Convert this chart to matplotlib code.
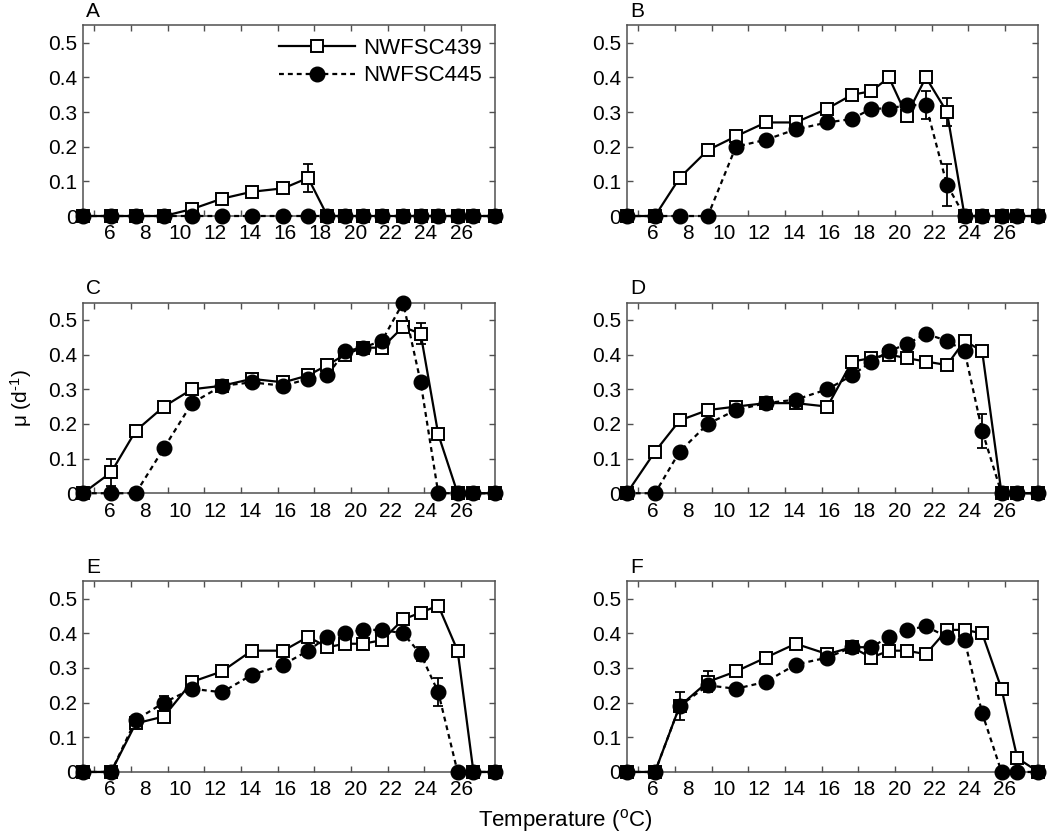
import numpy as np
import matplotlib.pyplot as plt

plt.rcParams['font.family'] = ['Liberation Sans', 'DejaVu Sans']
plt.rcParams['mathtext.fontset'] = 'custom'
plt.rcParams['mathtext.rm'] = 'Liberation Sans'
plt.rcParams['mathtext.it'] = 'Liberation Sans:italic'

# measured temperatures of the gradient (deg C)
temps = [4.5, 6.1, 7.5, 9.1, 10.7, 12.4, 14.1, 15.9, 17.3, 18.4,
         19.4, 20.4, 21.5, 22.7, 23.7, 24.7, 25.8, 26.7, 27.9]
tick_labels = ['6', '8', '10', '12', '14', '16', '18', '20', '22', '24', '26']
label_temps = [6, 8, 10, 12, 14, 16, 18, 20, 22, 24, 26]
panel_names = ['A', 'B', 'C', 'D', 'E', 'F']

# growth rates mu (d-1), strain NWFSC439 and NWFSC445
a_439 = [0, 0, 0, 0, 0.02, 0.05, 0.07, 0.08, 0.11, 0, 0, 0, 0, 0, 0, 0, 0, 0, 0]
a_445 = [0, 0, 0, 0, 0, 0, 0, 0, 0, 0, 0, 0, 0, 0, 0, 0, 0, 0, 0]
b_439 = [0, 0, 0.11, 0.19, 0.23, 0.27, 0.27, 0.31, 0.35, 0.36, 0.40, 0.29, 0.40, 0.30, 0, 0, 0, 0, 0]
b_445 = [0, 0, 0, 0, 0.20, 0.22, 0.25, 0.27, 0.28, 0.31, 0.31, 0.32, 0.32, 0.09, 0, 0, 0, 0, 0]
c_439 = [0, 0.06, 0.18, 0.25, 0.30, 0.31, 0.33, 0.32, 0.34, 0.37, 0.40, 0.42, 0.42, 0.48, 0.46, 0.17, 0, 0, 0]
c_445 = [0, 0, 0, 0.13, 0.26, 0.31, 0.32, 0.31, 0.33, 0.34, 0.41, 0.42, 0.44, 0.55, 0.32, 0, 0, 0, 0]
d_439 = [0, 0.12, 0.21, 0.24, 0.25, 0.26, 0.26, 0.25, 0.38, 0.39, 0.40, 0.39, 0.38, 0.37, 0.44, 0.41, 0, 0, 0]
d_445 = [0, 0, 0.12, 0.20, 0.24, 0.26, 0.27, 0.30, 0.34, 0.38, 0.41, 0.43, 0.46, 0.44, 0.41, 0.18, 0, 0, 0]
e_439 = [0, 0, 0.14, 0.16, 0.26, 0.29, 0.35, 0.35, 0.39, 0.36, 0.37, 0.37, 0.38, 0.44, 0.46, 0.48, 0.35, 0, 0]
e_445 = [0, 0, 0.15, 0.20, 0.24, 0.23, 0.28, 0.31, 0.35, 0.39, 0.40, 0.41, 0.41, 0.40, 0.34, 0.23, 0, 0, 0]
f_439 = [0, 0, 0.19, 0.26, 0.29, 0.33, 0.37, 0.34, 0.36, 0.33, 0.35, 0.35, 0.34, 0.41, 0.41, 0.40, 0.24, 0.04, 0]
f_445 = [0, 0, 0.19, 0.25, 0.24, 0.26, 0.31, 0.33, 0.36, 0.36, 0.39, 0.41, 0.42, 0.39, 0.38, 0.17, 0, 0, 0]

# standard errors (only the visible ones)
a_439_err = [0, 0, 0, 0, 0, 0.01, 0.01, 0.01, 0.04, 0, 0, 0, 0, 0, 0, 0, 0, 0, 0]
a_445_err = [0] * 19
b_439_err = [0, 0, 0, 0, 0, 0, 0, 0, 0, 0, 0, 0, 0, 0.04, 0, 0, 0, 0, 0]
b_445_err = [0, 0, 0, 0, 0, 0, 0, 0, 0, 0, 0, 0, 0.04, 0.06, 0, 0, 0, 0, 0]
c_439_err = [0, 0.04, 0, 0, 0, 0, 0, 0, 0, 0, 0, 0, 0, 0, 0.03, 0, 0, 0, 0]
c_445_err = [0] * 19
d_439_err = [0] * 19
d_445_err = [0, 0, 0, 0, 0, 0, 0, 0, 0, 0, 0, 0, 0, 0, 0, 0.05, 0, 0, 0]
e_439_err = [0, 0, 0, 0, 0, 0, 0, 0, 0, 0, 0, 0, 0, 0, 0.01, 0, 0, 0, 0]
e_445_err = [0, 0, 0, 0.02, 0, 0, 0, 0, 0, 0, 0, 0, 0, 0, 0.02, 0.04, 0, 0, 0]
f_439_err = [0, 0, 0, 0.03, 0, 0, 0, 0, 0, 0, 0, 0, 0, 0, 0, 0, 0, 0, 0]
f_445_err = [0, 0, 0.04, 0, 0, 0, 0, 0, 0, 0, 0, 0, 0, 0, 0, 0, 0, 0, 0]

panels = [
    (a_439, a_439_err, a_445, a_445_err),
    (b_439, b_439_err, b_445, b_445_err),
    (c_439, c_439_err, c_445, c_445_err),
    (d_439, d_439_err, d_445, d_445_err),
    (e_439, e_439_err, e_445, e_445_err),
    (f_439, f_439_err, f_445, f_445_err),
]

fig = plt.figure(figsize=(10.5, 8.36), dpi=100)

lefts = [0.079, 0.597]
bottoms = [0.7416, 0.410, 0.0766]
w, h = 0.392, 0.228
spine_col = '#505050'
x = np.array(temps)


def draw_errs(ax, vals, errs):
    vals = np.array(vals)
    errs = np.array(errs)
    m = errs > 0
    if m.any():
        ax.errorbar(x[m], vals[m], yerr=errs[m], fmt='none', ecolor='k',
                    elinewidth=1.3, capsize=3.5, capthick=1.3, zorder=2,
                    clip_on=False)


for i, (v439, e439, v445, e445) in enumerate(panels):
    ax = fig.add_axes([lefts[i % 2], bottoms[i // 2], w, h])

    draw_errs(ax, v439, e439)
    draw_errs(ax, v445, e445)
    ax.plot(x, v439, color='k', lw=1.6, marker='s', ms=8.5, mfc='white',
            mec='k', mew=1.4, clip_on=False, zorder=3, label='NWFSC439')
    ax.plot(x, v445, color='k', lw=1.6, linestyle=(0, (2.2, 1.8)), marker='o',
            ms=10.5, mfc='k', mec='k', clip_on=False, zorder=4, label='NWFSC445')

    ax.set_xlim(4.5, 27.9)
    ax.set_ylim(0, 0.55)

    # tick marks evenly spaced, labels at their temperature
    ax.xaxis.remove_overlapping_locs = False
    ax.set_xticks(np.linspace(5.15, 26.0, 11))
    ax.set_xticklabels([])
    ax.set_xticks(label_temps, minor=True)
    ax.set_xticklabels(tick_labels, minor=True)
    ax.tick_params(axis='x', which='minor', length=0, pad=6, labelsize=15)
    ax.set_yticks([0, 0.1, 0.2, 0.3, 0.4, 0.5])
    ax.set_yticklabels(['0', '0.1', '0.2', '0.3', '0.4', '0.5'])
    ax.tick_params(which='major', direction='in', length=4, width=1,
                   color=spine_col, top=True, right=True, labelsize=15)
    ax.tick_params(axis='y', pad=4)

    for s in ax.spines.values():
        s.set_color(spine_col)
        s.set_linewidth(1.1)

    ax.text(0.008, 1.025, panel_names[i], transform=ax.transAxes,
            fontsize=15, ha='left', va='bottom')

    if i == 0:
        ax.legend(loc='upper right', frameon=False, fontsize=16,
                  handlelength=3.4, handletextpad=0.4, labelspacing=0.3,
                  borderaxespad=0.15, bbox_to_anchor=(1.0, 1.0))
    if i == 2:
        ax.set_ylabel('μ (d$^{\u2010\\mathrm{1}}$)', fontsize=15, labelpad=10)

fig.text(0.538, 0.019, r'Temperature ($^{\mathrm{o}}$C)', ha='center',
         va='center', fontsize=16)

plt.savefig('out.png', dpi=100)
